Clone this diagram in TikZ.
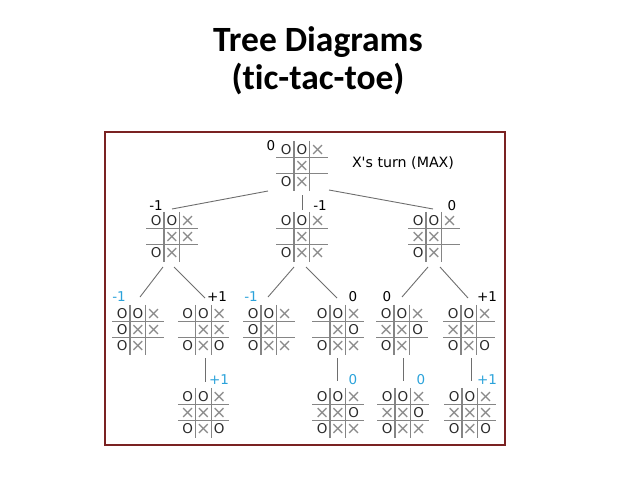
\documentclass[tikz,border=0pt]{standalone}
\usepackage{fontspec}
\setmainfont{DejaVu Sans}
\newfontfamily\titlefont[Ligatures=NoCommon]{Carlito}
\usetikzlibrary{matrix,calc}
\definecolor{framec}{HTML}{7A2222}
\definecolor{gridc}{HTML}{858585}
\definecolor{linkc}{HTML}{6E6E6E}
\definecolor{xcol}{HTML}{8A8A8A}
\definecolor{ocol}{HTML}{2A2A2A}
\definecolor{vblue}{HTML}{2AA2DA}
\newcommand\bO{\textcolor{ocol}{O}}
\newcommand\bX{\textcolor{xcol}{\fontsize{17.5}{17.5}\selectfont ×}}
\tikzset{
  board/.style={matrix of nodes, nodes in empty cells, inner sep=0pt,
    column sep=0pt, row sep=0pt,
    nodes={minimum width=15.7pt, minimum height=16pt, inner sep=0pt, anchor=center,
      font=\fontsize{13.5}{13.5}\selectfont}},
  gridline/.style={draw=gridc, line width=1.1pt},
  link/.style={draw=linkc, line width=0.9pt},
  val/.style={font=\fontsize{13.5}{13.5}\selectfont, text=black, inner sep=0pt},
  bval/.style={val, text=vblue},
  titletext/.style={font=\titlefont\bfseries\fontsize{35.5}{37}\selectfont, inner sep=0pt, anchor=base},
}
\newcommand\tttgrid[1]{%
  \draw[gridline] ([shift={(-2,0)}]#1-2-1.north west) -- ([shift={(2,0)}]#1-2-3.north east);
  \draw[gridline] ([shift={(-2,0)}]#1-3-1.north west) -- ([shift={(2,0)}]#1-3-3.north east);
  \draw[gridline] ([shift={(0,-1)}]#1-1-2.north west) -- ([shift={(0,1)}]#1-3-2.south west);
  \draw[gridline] ([shift={(0,-1)}]#1-1-3.north west) -- ([shift={(0,1)}]#1-3-3.south west);
}
\begin{document}
\begin{tikzpicture}[x=1pt,y=-1pt]
\useasboundingbox (0,0) rectangle (638,479);
% title
\node[titletext] (t1) at (318,52) {Tree Diagrams};
\node[titletext] (t2) at (318,89) {(tic-tac-toe)};
% frame
\draw[draw=framec, line width=1.2pt] (105,132) rectangle (505,445);
% root
\matrix (root) [board] at (302,166) {\bO & \bO & \bX \\ & \bX & \\ \bO & \bX & \\};
\tttgrid{root}
\node[val] (vroot) at (271,146) {0};
\node[font=\fontsize{14.2}{14.2}\selectfont, inner sep=0pt] (turn) at (403,163) {X\textquotesingle s turn (MAX)};
% level 1
\matrix (la) [board] at (172,237) {\bO & \bO & \bX \\ & \bX & \bX \\ \bO & \bX & \\};
\tttgrid{la}
\matrix (lb) [board] at (302,237) {\bO & \bO & \bX \\ & \bX & \\ \bO & \bX & \bX \\};
\tttgrid{lb}
\matrix (lc) [board] at (434,237) {\bO & \bO & \bX \\ \bX & \bX & \\ \bO & \bX & \\};
\tttgrid{lc}
\node[val] (vla) at (156,206) {-1};
\node[val] (vlb) at (320,206) {-1};
\node[val] (vlc) at (452,206) {0};
% level 2
\matrix (ma) [board] at (138,330) {\bO & \bO & \bX \\ \bO & \bX & \bX \\ \bO & \bX & \\};
\tttgrid{ma}
\matrix (mb) [board] at (203.5,330) {\bO & \bO & \bX \\ & \bX & \bX \\ \bO & \bX & \bO \\};
\tttgrid{mb}
\matrix (mc) [board] at (269,330) {\bO & \bO & \bX \\ \bO & \bX & \\ \bO & \bX & \bX \\};
\tttgrid{mc}
\matrix (md) [board] at (338,330) {\bO & \bO & \bX \\ & \bX & \bO \\ \bO & \bX & \bX \\};
\tttgrid{md}
\matrix (me) [board] at (402,330) {\bO & \bO & \bX \\ \bX & \bX & \bO \\ \bO & \bX & \\};
\tttgrid{me}
\matrix (mf) [board] at (469,330) {\bO & \bO & \bX \\ \bX & \bX & \\ \bO & \bX & \bO \\};
\tttgrid{mf}
\node[bval] (vma) at (119,297) {-1};
\node[val] (vmb) at (217,297) {+1};
\node[bval] (vmc) at (251,297) {-1};
\node[val] (vmd) at (353,297) {0};
\node[val] (vme) at (387,297) {0};
\node[val] (vmf) at (487,297) {+1};
% level 3
\matrix (nb) [board] at (203.5,413) {\bO & \bO & \bX \\ \bX & \bX & \bX \\ \bO & \bX & \bO \\};
\tttgrid{nb}
\matrix (nd) [board] at (338,413) {\bO & \bO & \bX \\ \bX & \bX & \bO \\ \bO & \bX & \bX \\};
\tttgrid{nd}
\matrix (ne) [board] at (403,413) {\bO & \bO & \bX \\ \bX & \bX & \bO \\ \bO & \bX & \bX \\};
\tttgrid{ne}
\matrix (nf) [board] at (470,413) {\bO & \bO & \bX \\ \bX & \bX & \bX \\ \bO & \bX & \bO \\};
\tttgrid{nf}
\node[bval] (vnb) at (219,380) {+1};
\node[bval] (vnd) at (353,380) {0};
\node[bval] (vne) at (421,380) {0};
\node[bval] (vnf) at (487,380) {+1};
% connectors
\draw[link] ([shift={(-34,25)}]root.center) -- ([shift={(0,-28)}]la.center);
\draw[link] ([shift={(0.7,29)}]root.center) -- ([shift={(0.7,-27)}]lb.center);
\draw[link] ([shift={(27,24)}]root.center) -- ([shift={(-1,-28)}]lc.center);
\draw[link] ([shift={(-9,30)}]la.center) -- ([shift={(2,-33)}]ma.center);
\draw[link] ([shift={(2,30)}]la.center) -- ([shift={(1.5,-32)}]mb.center);
\draw[link] ([shift={(-8,30)}]lb.center) -- ([shift={(-1,-33)}]mc.center);
\draw[link] ([shift={(4,30)}]lb.center) -- ([shift={(-1,-32)}]md.center);
\draw[link] ([shift={(-6,30)}]lc.center) -- ([shift={(0,-33)}]me.center);
\draw[link] ([shift={(6,30)}]lc.center) -- ([shift={(-1,-32)}]mf.center);
\draw[link] ([shift={(1.5,28)}]mb.center) -- ([shift={(1.5,-31)}]nb.center);
\draw[link] ([shift={(-0.7,28)}]md.center) -- ([shift={(-0.7,-32)}]nd.center);
\draw[link] ([shift={(1.3,28)}]me.center) -- ([shift={(0.3,-32)}]ne.center);
\draw[link] ([shift={(2.7,28)}]mf.center) -- ([shift={(1.7,-32)}]nf.center);
\end{tikzpicture}
\end{document}
